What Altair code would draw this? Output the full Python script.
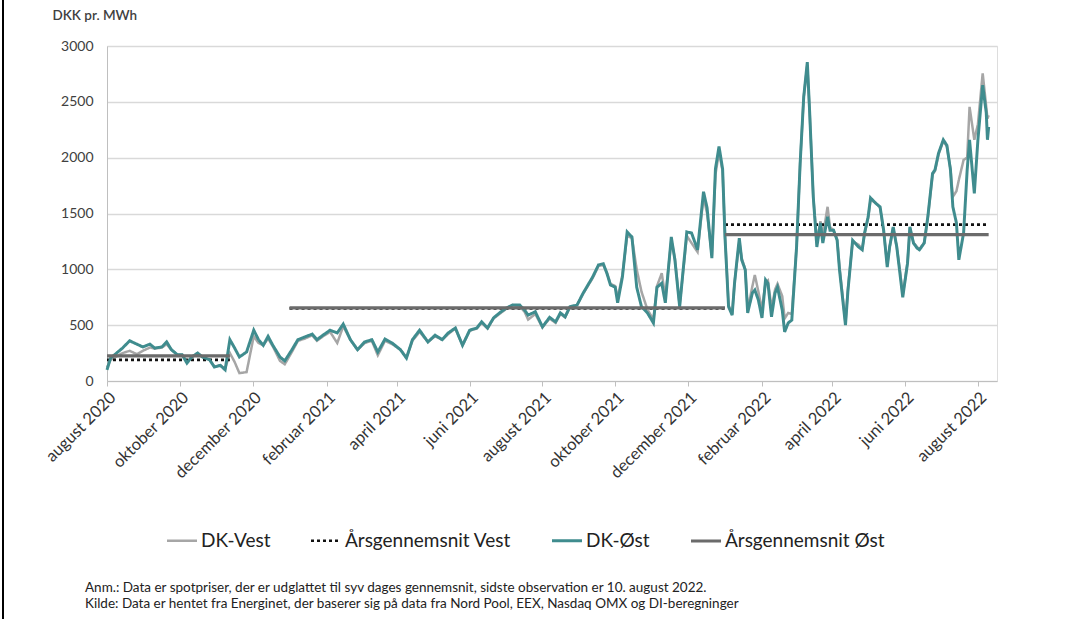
import altair as alt
import pandas as pd

# Days after 1 August 2020 (7-day smoothed spot prices, DKK/MWh)
dage = [0, 3, 8, 13, 19, 25, 30, 36, 40, 46, 50, 54, 59, 63, 67, 71, 76, 80, 86, 90, 95, 99,
        103, 107, 111, 117, 123, 127, 131, 135, 139, 145, 149, 155, 160, 166, 172, 176, 181, 187,
        193, 198, 204, 210, 216, 222, 227, 233, 239, 246, 251, 256, 262, 269, 275, 281, 286, 292,
        298, 304, 310, 314, 319, 324, 329, 335, 340, 346, 350, 353, 359, 365, 371, 376, 380, 384,
        388, 394, 399, 407, 412, 416, 419, 422, 426, 428, 432, 436, 440, 444, 448, 453, 458, 461,
        465, 468, 473, 476, 480, 486, 490, 495, 500, 503, 507, 510, 513, 516, 518, 521, 524, 526,
        530, 532, 535, 537, 541, 543, 546, 549, 552, 554, 557, 560, 562, 566, 568, 571, 574, 578,
        581, 584, 587, 589, 592, 595, 598, 600, 604, 606, 609, 612, 614, 619, 621, 625, 630, 633,
        635, 638, 640, 644, 648, 651, 654, 656, 659, 662, 665, 667, 671, 673, 676, 679, 681, 685,
        688, 692, 694, 697, 701, 704, 707, 709, 712, 714, 718, 721, 723, 727, 730, 734, 737, 738, 739]

dk_oest = [100, 205, 250, 295, 360, 330, 305, 330, 295, 305, 350, 280, 235, 235, 160, 215, 250, 215, 190, 125, 140, 100,
           370, 295, 215, 260, 455, 370, 320, 400, 320, 215, 180, 280, 370, 395, 420, 370, 410, 455,
           430, 510, 370, 280, 350, 370, 260, 375, 340, 280, 205, 370, 455, 350, 410, 370, 430, 475,
           320, 455, 475, 530, 475, 565, 610, 655, 680, 680, 635, 590, 620, 485, 570, 530, 610, 575,
           665, 680, 785, 930, 1040, 1050, 965, 860, 840, 700, 930, 1335, 1290, 840, 665, 610, 520, 840,
           875, 700, 1290, 1085, 665, 1335, 1325, 1175, 1695, 1550, 1100, 1900, 2100, 1900, 1290, 665, 590, 875,
           1280, 1085, 995, 610, 790, 815, 725, 565, 905, 875, 575, 790, 840, 635, 440, 520, 545, 1200,
           1950, 2545, 2855, 2400, 1650, 1200, 1415, 1235, 1470, 1350, 1350, 1260, 995, 500, 800, 1260, 1200, 1175,
           1325, 1470, 1640, 1595, 1560, 1350, 1020, 1200, 1380, 1200, 930, 750, 1055, 1380, 1235, 1190, 1175, 1235,
           1470, 1860, 1890, 2040, 2160, 2110, 1890, 1560, 1415, 1085, 1325, 1890, 2160, 1680, 2160, 2650, 2400, 2160, 2275]

dk_vest = [120, 190, 220, 250, 270, 240, 270, 300, 290, 300, 330, 280, 235, 235, 170, 215, 250, 215, 190, 130, 140, 110,
           250, 170, 70, 80, 400, 340, 320, 380, 310, 180, 150, 260, 360, 380, 410, 360, 400, 440,
           340, 490, 370, 280, 340, 360, 230, 360, 330, 280, 210, 360, 440, 350, 400, 370, 420, 470,
           320, 450, 470, 520, 470, 560, 600, 650, 680, 670, 620, 550, 600, 480, 560, 520, 600, 570,
           660, 680, 780, 920, 1030, 1040, 970, 870, 850, 740, 950, 1300, 1280, 1000, 800, 640, 550, 850,
           965, 750, 1260, 1100, 680, 1300, 1235, 1155, 1650, 1500, 1120, 1850, 2050, 1880, 1300, 680, 600, 880,
           1250, 1100, 1000, 640, 850, 950, 800, 640, 880, 900, 650, 820, 870, 760, 560, 610, 600, 1200,
           1950, 2545, 2830, 2400, 1650, 1250, 1430, 1300, 1560, 1380, 1350, 1270, 1020, 520, 820, 1250, 1220, 1180,
           1320, 1460, 1620, 1600, 1550, 1340, 1040, 1200, 1370, 1200, 960, 770, 1060, 1370, 1240, 1200, 1180, 1240,
           1460, 1850, 1880, 2030, 2150, 2100, 1900, 1650, 1700, 1800, 1980, 2000, 2455, 2160, 2300, 2755, 2455, 2350, 2380]

# Annual averages (start, end, Vest, Øst)
gns_start = ["2020-08-01", "2021-01-01", "2022-01-01"]
gns_slut = ["2020-11-12", "2022-01-01", "2022-08-10"]
gns_vest = [190, 650, 1400]
gns_oest = [225, 655, 1310]

serier = ["DK-Vest", "Årsgennemsnit Vest", "DK-Øst", "Årsgennemsnit Øst"]
farver = ["#a6a6a6", "#111111", "#3f8c8e", "#6b6b6b"]
streg = [[1, 0], [3, 3], [1, 0], [1, 0]]
bredde = [2.5, 3.2, 3.8, 4]

start = pd.Timestamp("2020-08-01")
datoer = [start + pd.Timedelta(days=d) for d in dage]

rows = []
for d, v in zip(datoer, dk_vest):
    rows.append({"dato": d, "vaerdi": v, "serie": "DK-Vest", "seg": "v"})
for d, v in zip(datoer, dk_oest):
    rows.append({"dato": d, "vaerdi": v, "serie": "DK-Øst", "seg": "o"})
for i, (s, e) in enumerate(zip(gns_start, gns_slut)):
    for t in (s, e):
        rows.append({"dato": pd.Timestamp(t), "vaerdi": gns_vest[i], "serie": "Årsgennemsnit Vest", "seg": f"gv{i}"})
        rows.append({"dato": pd.Timestamp(t), "vaerdi": gns_oest[i], "serie": "Årsgennemsnit Øst", "seg": f"go{i}"})
df = pd.DataFrame(rows)

maaneder = "['januar','februar','marts','april','maj','juni','juli','august','september','oktober','november','december']"
tick_vals = []
for y, m in [(2020, 8), (2020, 10), (2020, 12), (2021, 2), (2021, 4), (2021, 6), (2021, 8),
             (2021, 10), (2021, 12), (2022, 2), (2022, 4), (2022, 6), (2022, 8)]:
    tick_vals.append(alt.DateTime(year=y, month=m, date=1))

x_enc = alt.X("dato:T",
              scale=alt.Scale(domain=[alt.DateTime(year=2020, month=8, date=1),
                                      alt.DateTime(year=2022, month=8, date=17)]),
              axis=alt.Axis(values=tick_vals, title=None, grid=False,
                            labelExpr=maaneder + "[month(datum.value)] + ' ' + year(datum.value)",
                            labelAngle=-45, labelAlign="right", labelBaseline="top",
                            labelOverlap=False, labelFlush=False, labelBound=False,
                            labelPadding=3, labelFontSize=16.5, labelColor="#333333",
                            domainColor="#bfbfbf", tickColor="#bfbfbf", tickSize=5))
y_enc = alt.Y("vaerdi:Q",
              scale=alt.Scale(domain=[0, 3000]),
              axis=alt.Axis(values=[0, 500, 1000, 1500, 2000, 2500, 3000], title="DKK pr. MWh",
                            format="d",
                            titleAngle=0, titleX=-55, titleY=-31, titleAlign="left",
                            titleBaseline="middle", titleFontSize=13.5, titleFontWeight=600,
                            titleColor="#404040", ticks=False, labelPadding=14,
                            labelFontSize=14, labelColor="#404040", domainColor="#bfbfbf",
                            gridColor="#d9d9d9", gridWidth=1.5))

leg = dict(title=None, orient="none", legendX=58, legendY=478, direction="horizontal",
           columns=4, symbolType="stroke", symbolSize=900, labelFontSize=19,
           labelColor="#222222", labelOffset=2, columnPadding=34, labelLimit=300)

color_enc = alt.Color("serie:N", scale=alt.Scale(domain=serier, range=farver), legend=alt.Legend(**leg))
dash_enc = alt.StrokeDash("serie:N", scale=alt.Scale(domain=serier, range=streg), legend=alt.Legend(**leg))
width_enc = alt.StrokeWidth("serie:N", scale=alt.Scale(domain=serier, range=bredde), legend=alt.Legend(**leg))

base = alt.Chart(df)


def layer(name):
    return base.transform_filter(alt.datum.serie == name).mark_line().encode(
        x=x_enc, y=y_enc, color=color_enc, strokeDash=dash_enc, strokeWidth=width_enc,
        detail="seg:N")


layers = [layer(s) for s in serier]

note = alt.Chart(alt.Data(values=[{}])).mark_text(
    align="left", baseline="middle", fontSize=13.5, lineHeight=16, color="#222222",
    text=["Anm.: Data er spotpriser, der er udglattet til syv dages gennemsnit, sidste observation er 10. august 2022.",
          "Kilde: Data er hentet fra Energinet, der baserer sig på data fra Nord Pool, EEX, Nasdaq OMX og DI-beregninger"]
).encode(x=alt.value(-22), y=alt.value(542))

border = alt.Chart(alt.Data(values=[{}])).mark_rule(color="#000000", strokeWidth=2).encode(
    x=alt.value(-104), y=alt.value(-46), y2=alt.value(573))

chart = alt.layer(*layers, note, border).properties(
    width=890, height=335,
    autosize=alt.AutoSizeParams(type="none"),
    padding={"left": 107, "top": 46, "right": 68, "bottom": 238},
    background="white"
).configure_view(stroke="#d9d9d9", strokeWidth=1.5).configure(font="Lato")

chart.save("out.html", embed_options={"renderer": "svg", "actions": False})
